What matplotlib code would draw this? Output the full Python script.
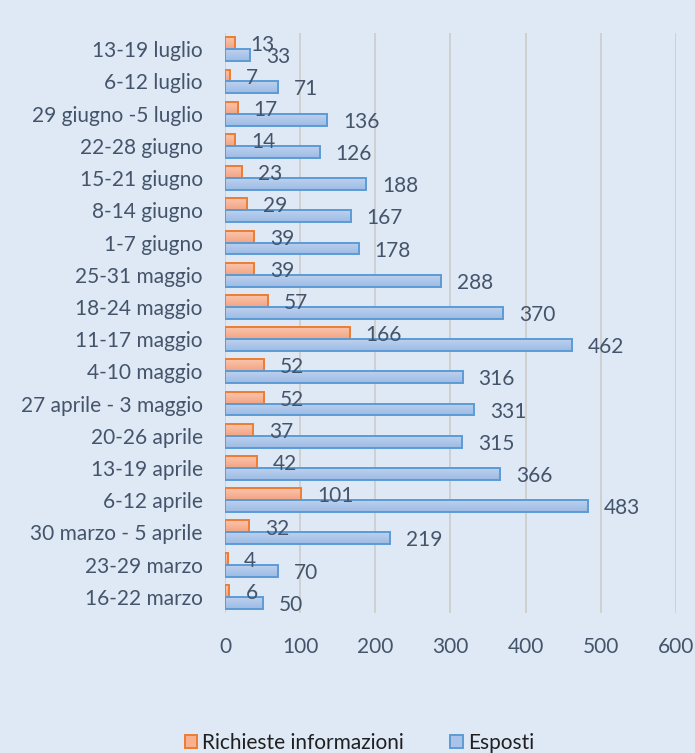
import numpy as np
import matplotlib
matplotlib.use('Agg')
import matplotlib.pyplot as plt
from matplotlib.patches import Patch

# Dati (dal basso verso l'alto)
settimane = ['16-22 marzo', '23-29 marzo', '30 marzo - 5 aprile', '6-12 aprile',
             '13-19 aprile', '20-26 aprile', '27 aprile - 3 maggio', '4-10 maggio',
             '11-17 maggio', '18-24 maggio', '25-31 maggio', '1-7 giugno',
             '8-14 giugno', '15-21 giugno', '22-28 giugno', '29 giugno -5 luglio',
             '6-12 luglio', '13-19 luglio']
richieste = [6, 4, 32, 101, 42, 37, 52, 52, 166, 57, 39, 39, 29, 23, 14, 17, 7, 13]
esposti = [50, 70, 219, 483, 366, 315, 331, 316, 462, 370, 288, 178, 167, 188, 126, 136, 71, 33]

bg = '#dee9f5'
testo = '#44546a'
plt.rcParams['font.family'] = ['Lato', 'DejaVu Sans']

fig = plt.figure(figsize=(6.95, 7.53), dpi=100, facecolor=bg)
ax = fig.add_axes([0.3237, 0.186, 0.649, 0.770])
ax.set_facecolor(bg)

y = np.arange(len(settimane))
h = 0.37

def gradiente(bars, c_top, c_bot):
    c1 = np.array(matplotlib.colors.to_rgb(c_top))
    c2 = np.array(matplotlib.colors.to_rgb(c_bot))
    t = np.linspace(0, 1, 20)[:, None]
    img = (c1 * (1 - t) + c2 * t)[:, None, :]
    for b in bars:
        x0, y0 = b.get_x(), b.get_y()
        w, hh = b.get_width(), b.get_height()
        im = ax.imshow(img, extent=[x0, x0 + w, y0, y0 + hh], origin='upper',
                       aspect='auto', zorder=2)
        im.set_clip_path(b)

b1 = ax.barh(y + h / 2, richieste, height=h, facecolor='none', edgecolor='#ed7d31',
             linewidth=1.4, zorder=3)
b2 = ax.barh(y - h / 2, esposti, height=h, facecolor='none', edgecolor='#5b9bd5',
             linewidth=1.4, zorder=3)
gradiente(b1, '#f9c4ad', '#f4a482')
gradiente(b2, '#bdd1ee', '#9dbbe5')

for yi, v in zip(y, richieste):
    ax.annotate(str(v), (v, yi + h / 2), xytext=(11.5, -1.5), textcoords='offset points',
                va='center', ha='left', fontsize=15, color=testo, zorder=4)
for yi, v in zip(y, esposti):
    ax.annotate(str(v), (v, yi - h / 2), xytext=(11.5, -1.5), textcoords='offset points',
                va='center', ha='left', fontsize=15, color=testo, zorder=4)

ax.set_xlim(0, 600)
ax.set_ylim(-0.5, len(settimane) - 0.5)
ax.set_xticks(range(0, 601, 100))
ax.set_yticks(y)
ax.set_yticklabels(settimane)
ax.tick_params(axis='both', length=0, labelsize=15, labelcolor=testo)
ax.tick_params(axis='x', pad=17)
ax.tick_params(axis='y', pad=16)
ax.grid(axis='x', color='#d0d0d0', linewidth=1.4, zorder=0)
for s in ax.spines.values():
    s.set_visible(False)

handles = [Patch(facecolor='#f7b090', edgecolor='#ed7d31', linewidth=1.4),
           Patch(facecolor='#a9c4e8', edgecolor='#5b9bd5', linewidth=1.4)]
fig.legend(handles, ['Richieste informazioni', 'Esposti'], loc='center',
           bbox_to_anchor=(0.517, 0.013), ncol=2, frameon=False, fontsize=15,
           labelcolor='#202020', handlelength=0.6, handleheight=0.6,
           handletextpad=0.25, columnspacing=2.2)

fig.savefig('out.png', dpi=100, facecolor=bg)
